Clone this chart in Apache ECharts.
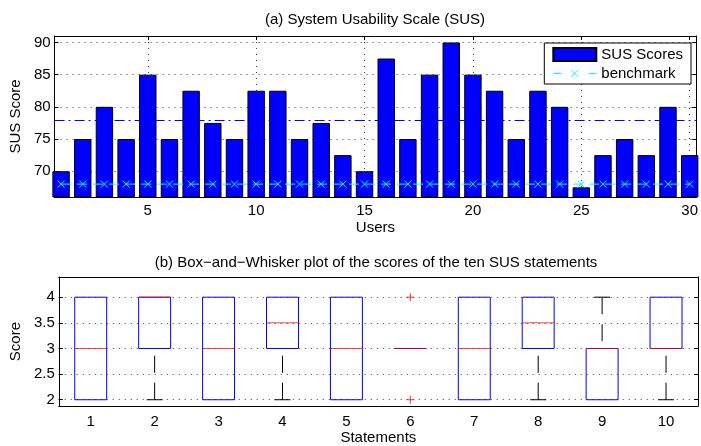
<!DOCTYPE html>
<html>
<head>
<meta charset="utf-8">
<script src="https://cdn.jsdelivr.net/npm/echarts@6/dist/echarts.min.js"></script>
<style>
  html, body { margin: 0; padding: 0; background: #fff; }
  #main { width: 701px; height: 446px; }
</style>
</head>
<body>
<div id="main"></div>
<script>
// (a) SUS score per user
var users = [1, 2, 3, 4, 5, 6, 7, 8, 9, 10, 11, 12, 13, 14, 15, 16, 17, 18, 19, 20, 21, 22, 23, 24, 25, 26, 27, 28, 29, 30];
var susScores = [70, 75, 80, 75, 85, 75, 82.5, 77.5, 75, 82.5, 82.5, 75, 77.5, 72.5, 70, 87.5, 75, 85, 90, 85, 82.5, 75, 82.5, 80, 67.5, 72.5, 75, 72.5, 80, 72.5];
var benchmark = [68, 68, 68, 68, 68, 68, 68, 68, 68, 68, 68, 68, 68, 68, 68, 68, 68, 68, 68, 68, 68, 68, 68, 68, 68, 68, 68, 68, 68, 68];
var susMean = 77.9;
var userTicks = [5, 10, 15, 20, 25, 30];
var susTicks = [70, 75, 80, 85, 90];

// (b) box plot of the ten statements
var statements = ['1', '2', '3', '4', '5', '6', '7', '8', '9', '10'];
var boxMin    = [2, 2, 2, 2,   2, 3, 2, 2,   2, 2];
var boxQ1     = [2, 3, 2, 3,   2, 3, 2, 3,   2, 3];
var boxMedian = [3, 4, 3, 3.5, 3, 3, 3, 3.5, 3, 3];
var boxQ3     = [4, 4, 4, 4,   4, 3, 4, 4,   3, 4];
var boxMax    = [4, 4, 4, 4,   4, 3, 4, 4,   4, 4];
var outlierStatement = [5, 5];   // index of statement 6
var outlierScore = [4, 2];
var scoreTicks = [2, 2.5, 3, 3.5, 4];

var FONT = 'Liberation Sans';
var FS = 15;
var chart = echarts.init(document.getElementById('main'));

function renderBox(params, api) {
  var i = api.value(0);
  var lo = api.value(1), q1 = api.value(2), med = api.value(3), q3 = api.value(4), hi = api.value(5);
  var band = api.size([1, 0])[0];
  var hw = band * 0.25, cw = band * 0.125;
  var pLo = api.coord([i, lo]), pQ1 = api.coord([i, q1]), pMed = api.coord([i, med]);
  var pQ3 = api.coord([i, q3]), pHi = api.coord([i, hi]);
  var cx = pQ1[0];
  var dashed = { stroke: '#000', lineWidth: 1, lineDash: [17, 10], fill: null };
  var solid = { stroke: '#000', lineWidth: 1, fill: null };
  var kids = [];
  if (lo < q1) {
    kids.push({ type: 'line', shape: { x1: cx, y1: pLo[1], x2: cx, y2: pQ1[1] }, style: dashed });
    kids.push({ type: 'line', shape: { x1: cx - cw, y1: pLo[1], x2: cx + cw, y2: pLo[1] }, style: solid });
  }
  if (hi > q3) {
    kids.push({ type: 'line', shape: { x1: cx, y1: pHi[1], x2: cx, y2: pQ3[1] }, style: dashed });
    kids.push({ type: 'line', shape: { x1: cx - cw, y1: pHi[1], x2: cx + cw, y2: pHi[1] }, style: solid });
  }
  kids.push({ type: 'rect', shape: { x: cx - hw, y: pQ3[1], width: hw * 2, height: pQ1[1] - pQ3[1] },
    style: { fill: null, stroke: '#0000ff', lineWidth: 1 } });
  kids.push({ type: 'line', shape: { x1: cx - hw, y1: pMed[1], x2: cx + hw, y2: pMed[1] },
    style: { stroke: '#ff0000', lineWidth: 1, opacity: 0.75 } });
  return { type: 'group', children: kids };
}

var dotted = { color: '#444', width: 1, type: [1, 5] };
var tickStyle = { color: '#000', width: 1 };
var txt = { fontFamily: FONT, fontSize: FS, color: '#000' };

var option = {
  animation: false,
  textStyle: { fontFamily: FONT, color: '#000' },
  title: [
    { text: '(a) System Usability Scale (SUS)', left: 375, top: 12, textAlign: 'center', padding: 0,
      textStyle: { fontFamily: FONT, fontSize: FS, fontWeight: 'normal', color: '#000' } },
    { text: '(b) Box\u2212and\u2212Whisker plot of the scores of the ten SUS statements', left: 376, top: 255,
      textAlign: 'center', padding: 0,
      textStyle: { fontFamily: FONT, fontSize: FS, fontWeight: 'normal', color: '#000' } }
  ],
  legend: {
    data: [
      { name: 'SUS Scores', icon: 'rect' },
      {
        name: 'benchmark',
        // dashed line with an x marker, drawn as one icon
        icon: 'path://M0,0L0.01,0M43,13L43.01,13M0,6.5L8,6.5M35,6.5L43,6.5M18,3L25,10M25,3L18,10',
        itemStyle: { color: 'rgba(0,0,0,0)', borderColor: '#00ffff', borderWidth: 1 }
      }
    ],
    orient: 'vertical',
    right: 10, top: 43,
    padding: [4, 8, 3, 8],
    itemGap: 4,
    itemWidth: 43, itemHeight: 13,
    backgroundColor: '#fff',
    borderColor: '#000', borderWidth: 1, borderRadius: 0,
    textStyle: txt
  },
  grid: [
    { left: 53, right: 4, top: 36, height: 161 },
    { left: 53, right: 3, top: 277, height: 136 }
  ],
  xAxis: [
    {
      gridIndex: 0, type: 'value', min: 0.7, max: 30.3,
      name: 'Users', nameLocation: 'middle', nameGap: 23,
      nameTextStyle: txt,
      axisLine: { lineStyle: tickStyle },
      axisTick: { inside: true, length: 4, lineStyle: tickStyle, customValues: userTicks },
      axisLabel: { fontFamily: FONT, fontSize: FS, color: '#000', margin: 6, customValues: userTicks },
      splitLine: { show: true, lineStyle: dotted }
    },
    {
      gridIndex: 0, type: 'value', min: 0.7, max: 30.3, position: 'top',
      axisLine: { lineStyle: tickStyle },
      axisTick: { inside: true, length: 4, lineStyle: tickStyle, customValues: userTicks },
      axisLabel: { show: false },
      splitLine: { show: false }
    },
    {
      gridIndex: 1, type: 'category', data: statements, boundaryGap: true,
      name: 'Statements', nameLocation: 'middle', nameGap: 22,
      nameTextStyle: txt,
      axisLine: { lineStyle: tickStyle },
      axisTick: { show: false },
      axisLabel: { fontFamily: FONT, fontSize: FS, color: '#000', margin: 8 },
      splitLine: { show: false }
    },
    {
      gridIndex: 1, type: 'category', data: statements, position: 'top',
      axisLine: { lineStyle: tickStyle },
      axisTick: { show: false },
      axisLabel: { show: false }
    }
  ],
  yAxis: [
    {
      gridIndex: 0, type: 'value', min: 66, max: 91,
      name: 'SUS Score', nameLocation: 'middle', nameGap: 28,
      nameTextStyle: txt,
      axisLine: { show: true, lineStyle: tickStyle },
      axisTick: { show: true, inside: true, length: 4, lineStyle: tickStyle, customValues: susTicks },
      axisLabel: { fontFamily: FONT, fontSize: FS, color: '#000', margin: 4, customValues: susTicks },
      splitLine: { show: true, lineStyle: dotted }
    },
    {
      gridIndex: 0, type: 'value', min: 66, max: 91, position: 'right',
      axisLine: { show: true, lineStyle: tickStyle },
      axisTick: { show: true, inside: true, length: 4, lineStyle: tickStyle, customValues: susTicks },
      axisLabel: { show: false },
      splitLine: { show: false }
    },
    {
      gridIndex: 1, type: 'value', min: 1.876, max: 4.394,
      name: 'Score', nameLocation: 'middle', nameGap: 32,
      nameTextStyle: txt,
      axisLine: { show: true, lineStyle: tickStyle },
      axisTick: { show: true, inside: true, length: 4, lineStyle: tickStyle, customValues: scoreTicks },
      axisLabel: { fontFamily: FONT, fontSize: FS, color: '#000', margin: 4, customValues: scoreTicks },
      splitLine: { show: true, lineStyle: dotted }
    },
    {
      gridIndex: 1, type: 'value', min: 1.876, max: 4.394, position: 'right',
      axisLine: { show: true, lineStyle: tickStyle },
      axisTick: { show: true, inside: true, length: 4, lineStyle: tickStyle, customValues: scoreTicks },
      axisLabel: { show: false },
      splitLine: { show: false }
    }
  ],
  series: [
    {
      name: 'SUS Scores', type: 'bar', xAxisIndex: 0, yAxisIndex: 0,
      data: users.map(function (u, i) { return [u, susScores[i]]; }),
      barWidth: 17.4,
      itemStyle: { color: '#0000ff', borderColor: '#000', borderWidth: 1 },
      markLine: {
        silent: true, symbol: 'none', label: { show: false },
        lineStyle: { color: '#0000ff', width: 1, type: [10, 4, 2, 4] },
        data: [{ yAxis: susMean }]
      }
    },
    {
      name: 'benchmark', type: 'line', xAxisIndex: 0, yAxisIndex: 0,
      data: users.map(function (u, i) { return [u, benchmark[i]]; }),
      symbol: 'path://M0,0L10,10M10,0L0,10', symbolSize: 7,
      lineStyle: { color: '#00ffff', width: 1, type: [10, 6] },
      itemStyle: { color: 'rgba(0,0,0,0)', borderColor: '#00ffff', borderWidth: 1 },
      z: 5
    },
    {
      type: 'custom', xAxisIndex: 2, yAxisIndex: 2,
      renderItem: renderBox,
      encode: { x: 0, y: [1, 2, 3, 4, 5] },
      data: statements.map(function (s, i) {
        return [i, boxMin[i], boxQ1[i], boxMedian[i], boxQ3[i], boxMax[i]];
      }),
      z: 5
    },
    {
      type: 'scatter', xAxisIndex: 2, yAxisIndex: 2,
      data: outlierStatement.map(function (s, i) { return [s, outlierScore[i]]; }),
      symbol: 'path://M5,0L5,10M0,5L10,5', symbolSize: 8,
      itemStyle: { color: 'rgba(0,0,0,0)', borderColor: '#ff0000', borderWidth: 1 },
      z: 6
    }
  ]
};

chart.setOption(option);
</script>
</body>
</html>
